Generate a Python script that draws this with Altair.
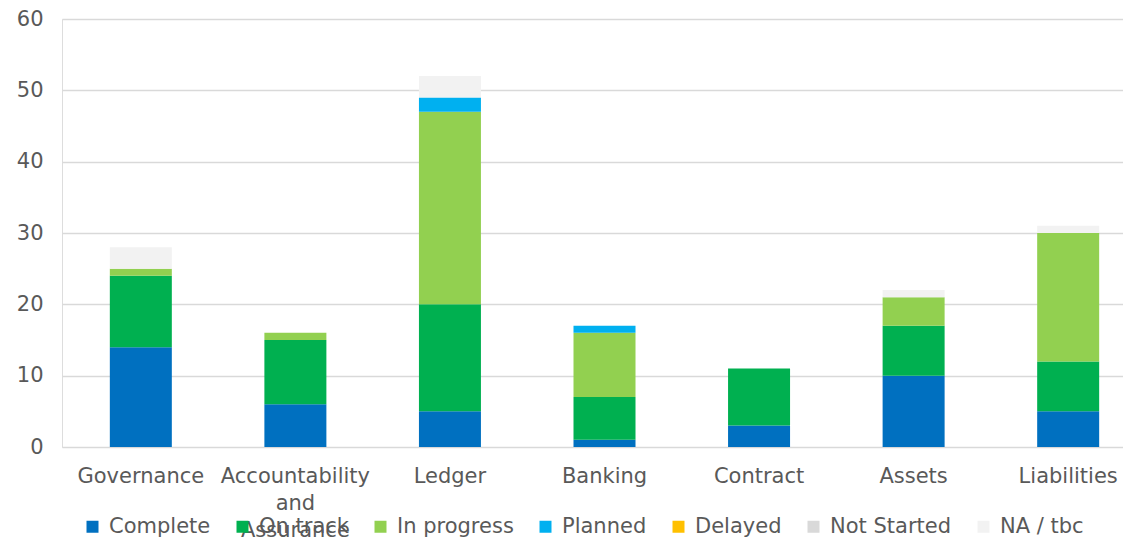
import altair as alt
import pandas as pd

categories = ["Governance", "Accountability and Assurance", "Ledger", "Banking", "Contract", "Assets", "Liabilities"]
statuses = ["Complete", "On track", "In progress", "Planned", "Delayed", "Not Started", "NA / tbc"]
colors = ["#0070C0", "#00B050", "#92D050", "#00B0F0", "#FFC000", "#D9D9D9", "#F2F2F2"]

complete    = [14, 6, 5, 1, 3, 10, 5]
on_track    = [10, 9, 15, 6, 8, 7, 7]
in_progress = [1, 1, 27, 9, 0, 4, 18]
planned     = [0, 0, 2, 1, 0, 0, 0]
delayed     = [0, 0, 0, 0, 0, 0, 0]
not_started = [0, 0, 0, 0, 0, 0, 0]
na_tbc      = [3, 0, 3, 0, 0, 1, 1]

series = [complete, on_track, in_progress, planned, delayed, not_started, na_tbc]
rows = []
for si, (s, vals) in enumerate(zip(statuses, series)):
    for c, v in zip(categories, vals):
        rows.append({"Category": c, "Status": s, "Value": v, "order": si})
df = pd.DataFrame(rows)

FONT = "DejaVu Sans"
TXT = "#595959"

bars = alt.Chart(df).mark_bar(size=62).encode(
    x=alt.X("Category:N", sort=categories, title=None,
            scale=alt.Scale(range=[0, 1085], paddingInner=0.6, paddingOuter=0.31),
            axis=alt.Axis(labelAngle=0, labelFontSize=21, labelColor=TXT, labelFont=FONT,
                          ticks=False, domain=False, labelPadding=18, labelLineHeight=27,
                          labelLimit=300, labelOverlap=False,
                          labelExpr="datum.label == 'Accountability and Assurance' ? ['Accountability','and','Assurance'] : datum.label")),
    y=alt.Y("sum(Value):Q", title=None,
            scale=alt.Scale(domain=[0, 60]),
            axis=alt.Axis(values=[0, 10, 20, 30, 40, 50, 60], labelFontSize=21, labelColor=TXT,
                          labelFont=FONT, ticks=False, domain=False, labelPadding=19,
                          gridColor="#D9D9D9", gridWidth=1.5)),
    color=alt.Color("Status:N", sort=statuses,
                    scale=alt.Scale(domain=statuses, range=colors),
                    legend=alt.Legend(title=None, orient="none", direction="horizontal",
                                      legendX=20, legendY=497, padding=0,
                                      symbolType="square", symbolSize=144,
                                      labelFontSize=21, labelColor=TXT, labelFont=FONT,
                                      columnPadding=21, labelOffset=6, symbolStrokeWidth=0)),
    order=alt.Order("order:Q", sort="ascending"),
)

chart = bars.properties(
    width=1061, height=428,
    autosize=alt.AutoSizeParams(type="none"),
    padding={"left": 62, "top": 19, "right": 0, "bottom": 92},
).configure_view(stroke=None).configure(font=FONT)

chart.save("out.html", embed_options={"renderer": "svg", "actions": False})
